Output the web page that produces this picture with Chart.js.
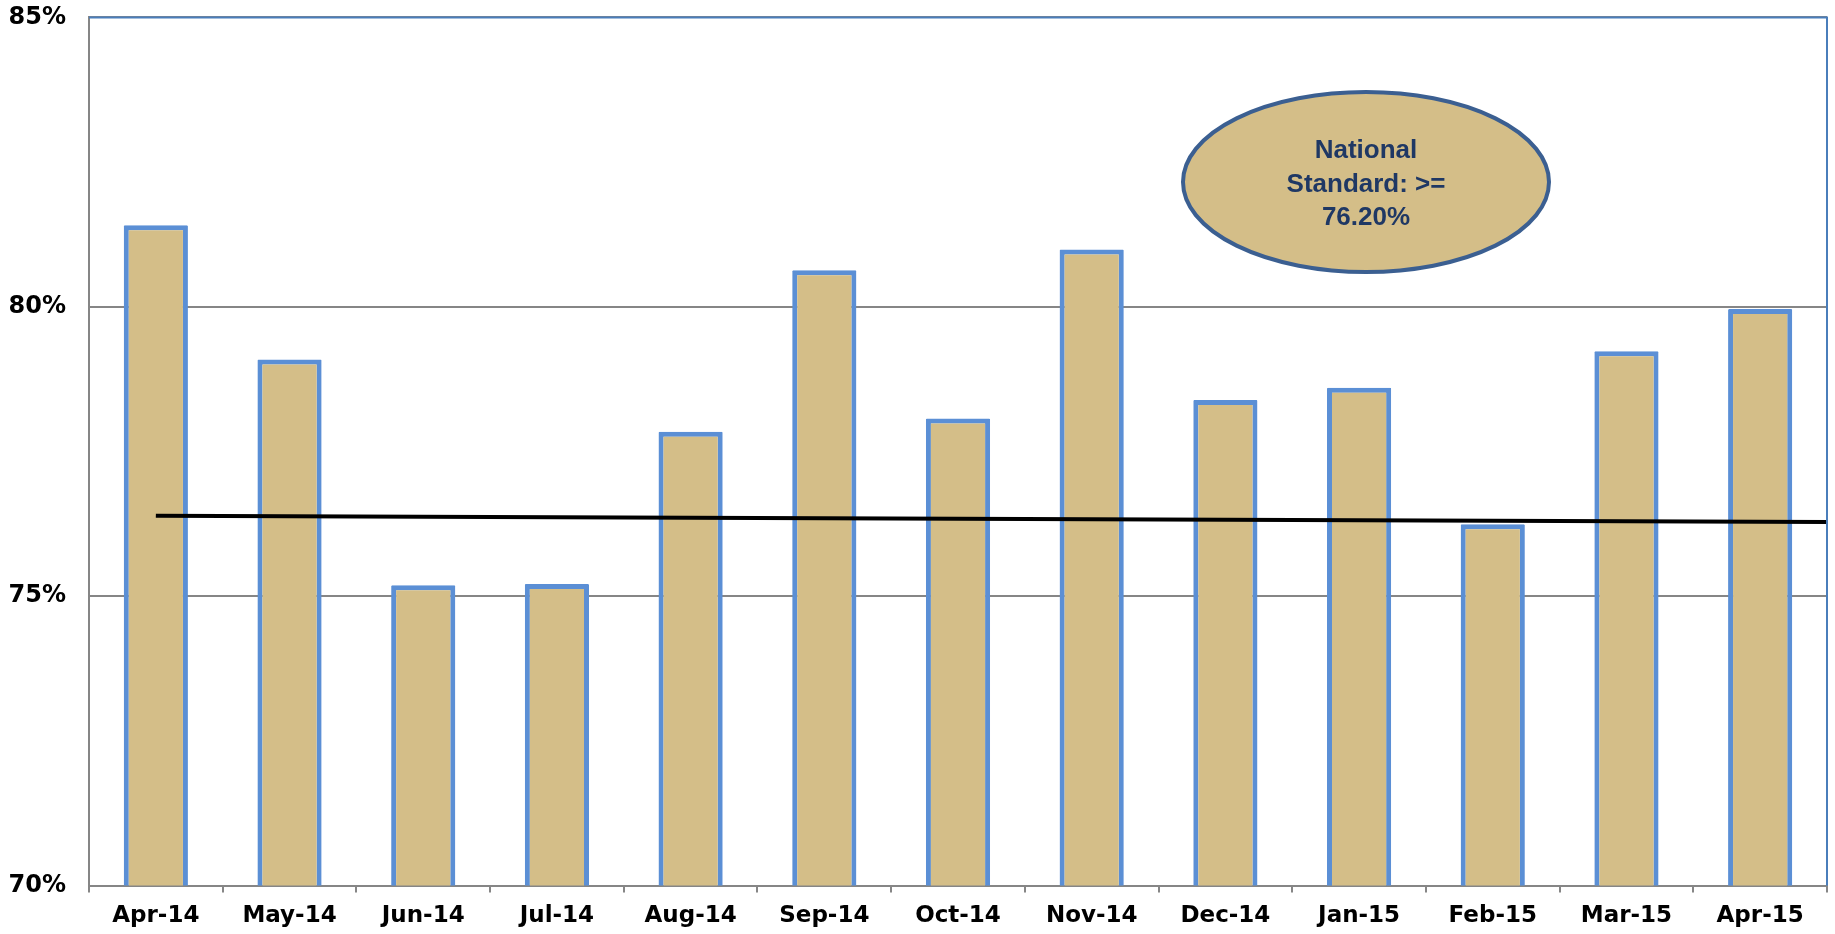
<!DOCTYPE html>
<html>
<head>
<meta charset="utf-8">
<title>National Standard chart</title>
<script src="https://cdn.jsdelivr.net/npm/chart.js"></script>
<style>
  html, body { margin: 0; padding: 0; background: #fff; }
  #wrap { width: 1835px; height: 934px; }
</style>
</head>
<body>
<div id="wrap"><canvas id="barChart" width="1835" height="934"></canvas></div>
<script>
// data
const months = ['Apr-14', 'May-14', 'Jun-14', 'Jul-14', 'Aug-14', 'Sep-14', 'Oct-14',
                'Nov-14', 'Dec-14', 'Jan-15', 'Feb-15', 'Mar-15', 'Apr-15'];
const rates = [81.41, 79.09, 75.19, 75.21, 77.84, 80.63, 78.07, 80.99, 78.39, 78.60, 76.24, 79.23, 79.96];
const trendX = [0, 12.5];
const trendY = [76.39, 76.28];
const yTicks = [70, 75, 80, 85];
const calloutLines = ['National', 'Standard: >=', '76.20%'];

const FONT = '"Liberation Sans", Arial, sans-serif';
const AXIS_FONT = '"DejaVu Sans", sans-serif';
const GREY = '#868686';

// ellipse note + blue frame on top/right
const calloutPlugin = {
    id: 'callout',
    afterDraw(chart) {
        const ctx = chart.ctx;
        const a = chart.chartArea;
        ctx.save();
        ctx.strokeStyle = '#4a7ebb';
        ctx.lineWidth = 2;
        ctx.beginPath();
        ctx.moveTo(a.left, a.top);
        ctx.lineTo(a.right, a.top);
        ctx.lineTo(a.right, a.bottom);
        ctx.stroke();

        ctx.beginPath();
        ctx.ellipse(1366, 182, 183, 90, 0, 0, Math.PI * 2);
        ctx.fillStyle = '#d4be88';
        ctx.fill();
        ctx.lineWidth = 4;
        ctx.strokeStyle = '#3b5f91';
        ctx.stroke();

        ctx.fillStyle = '#1f3864';
        ctx.font = 'bold 26px ' + FONT;
        ctx.textAlign = 'center';
        ctx.textBaseline = 'middle';
        calloutLines.forEach((t, i) => ctx.fillText(t, 1366, 151 + i * 33.5));
        ctx.restore();
    }
};

const ctx = document.getElementById('barChart').getContext('2d');
new Chart(ctx, {
    type: 'bar',
    data: {
        labels: months,
        datasets: [{
            type: 'line',
            data: trendX.map((x, i) => ({ x: x, y: trendY[i] })),
            xAxisID: 'x2',
            yAxisID: 'y',
            borderColor: '#000',
            borderWidth: 4,
            pointRadius: 0,
            order: 0
        }, {
            type: 'bar',
            data: rates,
            xAxisID: 'x',
            yAxisID: 'y',
            backgroundColor: '#d4be88',
            borderColor: '#5b8fd5',
            borderWidth: 5,
            borderSkipped: false,
            borderRadius: 1,
            grouped: false,
            barPercentage: 0.48,
            categoryPercentage: 1,
            order: 1
        }]
    },
    options: {
        responsive: false,
        animation: false,
        layout: { padding: { left: 0, right: 8, top: 0, bottom: 0 } },
        plugins: { legend: { display: false }, tooltip: { enabled: false } },
        scales: {
            x: {
                type: 'category',
                offset: true,
                grid: { offset: true, drawOnChartArea: false, drawTicks: true, tickLength: 7, color: GREY, lineWidth: 2 },
                border: { color: GREY, width: 2 },
                ticks: { color: '#000', font: { family: AXIS_FONT, size: 23, weight: 'bold' }, padding: 10, maxRotation: 0 },
                afterFit(scale) { scale.height = 48.5; }
            },
            x2: {
                type: 'linear',
                display: false,
                offset: false,
                min: -0.5,
                max: 12.5
            },
            y: {
                min: 70,
                max: 85,
                afterBuildTicks(scale) { scale.ticks = yTicks.map(v => ({ value: v })); },
                grid: { color: GREY, lineWidth: 2, drawTicks: true, tickLength: 20, tickColor: 'rgba(0,0,0,0)' },
                border: { color: GREY, width: 2 },
                ticks: {
                    color: '#000',
                    font: { family: AXIS_FONT, size: 24, weight: 'bold' },
                    padding: 3,
                    callback: v => v + '%'
                },
                afterFit(scale) { scale.width = 89; }
            }
        }
    },
    plugins: [calloutPlugin]
});
</script>
</body>
</html>
